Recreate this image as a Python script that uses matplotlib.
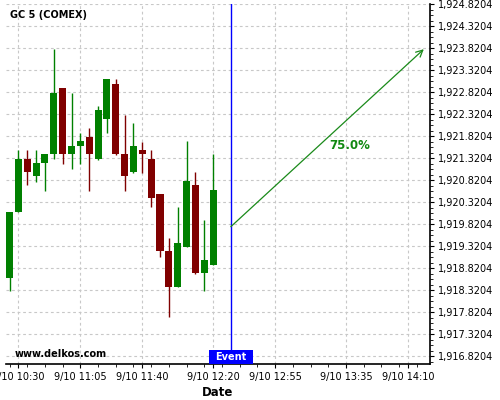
import matplotlib
matplotlib.use("Agg")
import matplotlib.pyplot as plt
import matplotlib.dates as mdates
import matplotlib.transforms as mtransforms
from matplotlib.patches import Rectangle
from matplotlib.ticker import AutoMinorLocator
import pandas as pd

# 5-minute candles, GC 5 (COMEX), 9/10
times = ["10:25", "10:30", "10:35", "10:40", "10:45", "10:50", "10:55", "11:00",
         "11:05", "11:10", "11:15", "11:20", "11:25", "11:30", "11:35", "11:40",
         "11:45", "11:50", "11:55", "12:00", "12:05", "12:10", "12:15", "12:20"]
opens = [1918.607, 1920.100, 1921.305, 1920.925, 1921.214, 1921.418, 1922.918, 1921.418,
         1921.600, 1921.811, 1921.305, 1922.220, 1923.009, 1921.418, 1921.016, 1921.509,
         1921.305, 1920.509, 1919.220, 1918.402, 1919.311, 1920.714, 1918.720, 1918.895]
highs = [1920.100, 1921.500, 1921.500, 1921.500, 1921.418, 1923.798, 1922.918, 1922.798,
         1921.902, 1922.009, 1922.510, 1923.123, 1923.123, 1922.298, 1922.116, 1921.698,
         1921.500, 1920.509, 1919.502, 1920.207, 1921.707, 1921.002, 1919.918, 1921.418]
lows = [1918.305, 1920.100, 1920.714, 1920.789, 1920.584, 1921.298, 1921.198, 1921.084,
        1921.198, 1920.584, 1921.280, 1921.902, 1921.395, 1920.584, 1920.993, 1920.993,
        1920.207, 1919.084, 1917.707, 1918.390, 1919.311, 1918.690, 1918.305, 1918.895]
closes = [1920.100, 1921.305, 1921.016, 1921.214, 1921.418, 1922.805, 1921.418, 1921.600,
          1921.720, 1921.418, 1922.418, 1923.123, 1921.418, 1920.925, 1921.600, 1921.418,
          1920.425, 1919.220, 1918.402, 1919.395, 1920.805, 1918.720, 1919.009, 1920.600]

event_time = "12:30"
arrow_start = ("12:30", 1919.766)
arrow_end = ("14:19", 1923.800)
arrow_label = "75.0%"
label_pos = ("13:37", 1921.60)

xtick_times = ["10:30", "11:05", "11:40", "12:20", "12:55", "13:35", "14:10"]
xtick_labels = ["9/10 10:30", "9/10 11:05", "9/10 11:40", "9/10 12:20",
                "9/10 12:55", "9/10 13:35", "9/10 14:10"]
yticks = [1916.8204, 1917.3204, 1917.8204, 1918.3204, 1918.8204, 1919.3204,
          1919.8204, 1920.3204, 1920.8204, 1921.3204, 1921.8204, 1922.3204,
          1922.8204, 1923.3204, 1923.8204, 1924.3204, 1924.8204]


def t(s):
    return mdates.date2num(pd.Timestamp("2014-09-10 " + s))


green = "#008000"
red = "#800000"

fig = plt.figure(figsize=(5, 4), dpi=100)
ax = fig.add_axes([6 / 500, 36 / 400, 424 / 500, 360 / 400])

# candles
w = 4.0 / 1440
for s, o, h, l, c in zip(times, opens, highs, lows, closes):
    x = t(s)
    col = green if c >= o else red
    ax.vlines(x, l, h, color=col, lw=1, zorder=3)
    ax.bar(x, abs(c - o), w, bottom=min(o, c), color=col, lw=0, zorder=3)

# event line + forecast arrow
ax.axvline(t(event_time), color="blue", lw=1, zorder=4)
ax.annotate("", xy=(t(arrow_end[0]), arrow_end[1]),
            xytext=(t(arrow_start[0]), arrow_start[1]),
            arrowprops=dict(arrowstyle="->", color="#1a8a1a", lw=0.9,
                            shrinkA=0, shrinkB=0, mutation_scale=12),
            zorder=4)
ax.text(t(label_pos[0]), label_pos[1], arrow_label, color="#118811", fontsize=8.5,
        fontweight="bold", ha="center", va="center", zorder=5)

# "Event" tag at the bottom
trans = mtransforms.blended_transform_factory(ax.transData, ax.transAxes)
half = 12.25 / 1440
ax.add_patch(Rectangle((t(event_time) - half, 0), 2 * half, 14 / 360,
                       transform=trans, fc="blue", ec="none", zorder=6,
                       clip_on=False))
ax.text(t(event_time), 7 / 360, "Event", transform=trans, color="white",
        fontsize=7, fontweight="bold", ha="center", va="center", zorder=7)

ax.set_xlim(t("10:23"), t("14:22") + 0.5 / 1440)
ax.set_ylim(1916.645, 1924.827)

ax.set_xticks([t(s) for s in xtick_times])
ax.set_xticklabels(xtick_labels, fontsize=7)
ax.xaxis.set_minor_locator(mdates.MinuteLocator(byminute=[5, 15, 25, 35, 45, 55]))
ax.set_yticks(yticks)
ax.set_yticklabels(["{:,.4f}".format(v) for v in yticks], fontsize=7)
ax.yaxis.set_minor_locator(AutoMinorLocator(4))
ax.yaxis.tick_right()
ax.tick_params(axis="both", which="major", length=3, width=0.8, pad=2.5)
ax.tick_params(axis="both", which="minor", length=2, width=0.6)

ax.grid(True, which="major", color="#c8c8c8", ls=(0, (2.5, 2.5)), lw=0.8)
ax.set_axisbelow(True)
for side in ("left", "top"):
    ax.spines[side].set_visible(False)
ax.spines["bottom"].set_linewidth(1.2)
ax.spines["right"].set_linewidth(1.2)

ax.set_xlabel("Date", fontsize=8.5, fontweight="bold", labelpad=3)
fig.text(10 / 500, 1 - 15.5 / 400, "GC 5 (COMEX)", fontsize=7, fontweight="bold",
         ha="left", va="center")
fig.text(15 / 500, 1 - 354 / 400, "www.delkos.com", fontsize=7, fontweight="bold",
         ha="left", va="center")

fig.savefig("out.png", dpi=100)
